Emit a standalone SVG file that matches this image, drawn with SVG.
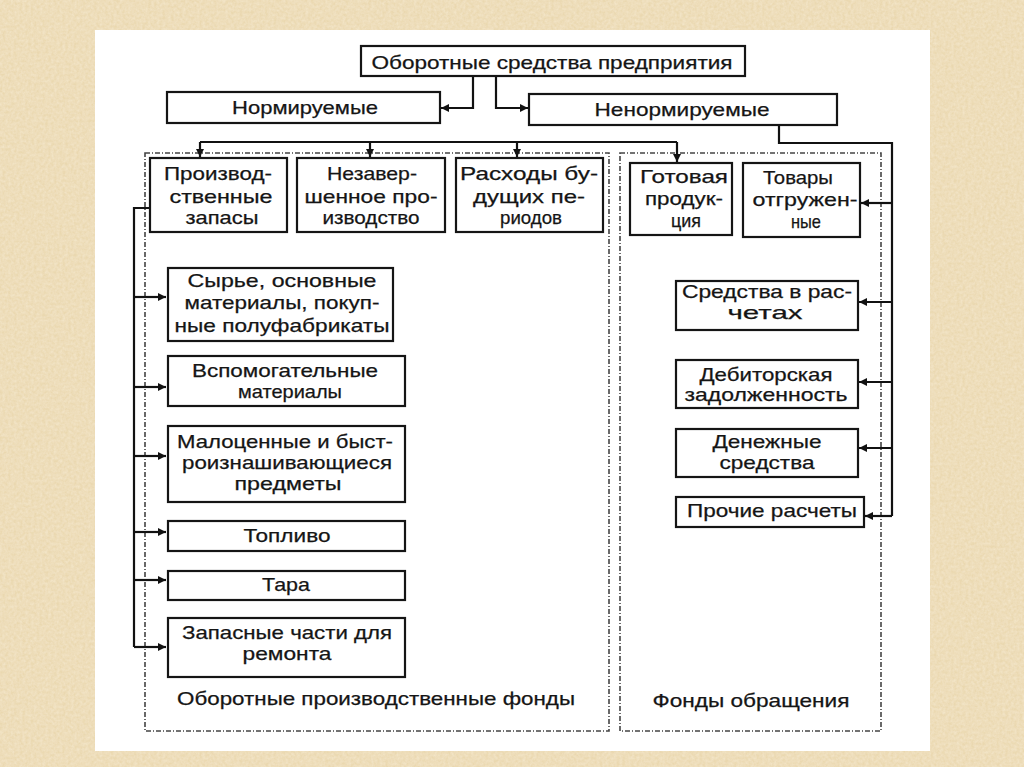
<svg xmlns="http://www.w3.org/2000/svg" width="1024" height="767" viewBox="0 0 1024 767">
<defs>
<filter id="tex" x="0" y="0" width="100%" height="100%">
<feTurbulence type="fractalNoise" baseFrequency="0.35" numOctaves="3" seed="4" result="n"/>
<feColorMatrix in="n" type="matrix" values="0 0 0 0 0.91  0 0 0 0 0.80  0 0 0 0 0.60  0 0 0 -1.2 0.95" result="c"/>
<feComposite in="c" in2="SourceGraphic" operator="over"/>
</filter>
<marker id="ah" viewBox="0 0 10 10" refX="10" refY="5" markerWidth="9" markerHeight="8" markerUnits="userSpaceOnUse" orient="auto">
<path d="M0,0 L10,5 L0,10 z" fill="#111"/>
</marker>
<style>
.box{fill:#fff;stroke:#151515;stroke-width:2.2}
.dash{fill:none;stroke:#444;stroke-width:1.6;stroke-dasharray:5 2 1 2}
.con{fill:none;stroke:#111;stroke-width:2.2}
.arr{fill:none;stroke:#111;stroke-width:2.2;marker-end:url(#ah)}
text{font-family:"Liberation Sans",Arial,sans-serif;font-size:19px;fill:#151515;stroke:#151515;stroke-width:0.25;text-anchor:middle}
</style>
</defs>
<rect x="0" y="0" width="1024" height="767" fill="#e6d2a8"/>
<rect x="0" y="0" width="1024" height="767" fill="#ead8b0" filter="url(#tex)"/>
<rect x="95" y="30" width="835" height="721" fill="#fff"/>

<g id="regions">
<rect class="dash" x="145" y="153" width="464" height="578"/>
<rect class="dash" x="620" y="153" width="261" height="578"/>
<text x="376" y="705" textLength="398" lengthAdjust="spacingAndGlyphs">Оборотные производственные фонды</text>
<text x="751" y="707" textLength="197" lengthAdjust="spacingAndGlyphs">Фонды обращения</text>
</g>

<g id="connectors">
<path class="arr" d="M473,76 V108 H441"/>
<path class="arr" d="M496,76 V108 H528"/>
<path class="con" d="M200,142 H677"/>
<path class="arr" d="M200,142 V157"/>
<path class="arr" d="M370,142 V157"/>
<path class="arr" d="M517,142 V157"/>
<path class="arr" d="M677,142 V162"/>
<path class="con" d="M779,125 V143 H892 V516"/>
<path class="arr" d="M892,203 H861"/>
<path class="arr" d="M892,302 H859"/>
<path class="arr" d="M892,382 H859"/>
<path class="arr" d="M892,448 H859"/>
<path class="arr" d="M892,516 H865"/>
<path class="con" d="M150,208 H134 V647"/>
<path class="arr" d="M134,297 H166"/>
<path class="arr" d="M134,387 H166"/>
<path class="arr" d="M134,456 H166"/>
<path class="arr" d="M134,532 H166"/>
<path class="arr" d="M134,580 H166"/>
<path class="arr" d="M134,647 H166"/>
</g>

<g id="n-root">
<rect class="box" x="361" y="46" width="384" height="30"/>
<text x="552" y="69" textLength="361" lengthAdjust="spacingAndGlyphs">Оборотные средства предприятия</text>
</g>
<g id="n-norm">
<rect class="box" x="167" y="92" width="273" height="31"/>
<text x="305" y="114" textLength="146" lengthAdjust="spacingAndGlyphs">Нормируемые</text>
</g>
<g id="n-nenorm">
<rect class="box" x="529" y="94" width="308" height="31"/>
<text x="682" y="116" textLength="175" lengthAdjust="spacingAndGlyphs">Ненормируемые</text>
</g>

<g id="n-proizv-zapasy">
<rect class="box" x="150" y="158" width="137" height="74"/>
<text x="218" y="180" textLength="108" lengthAdjust="spacingAndGlyphs">Производ-</text>
<text x="221" y="203" textLength="103" lengthAdjust="spacingAndGlyphs">ственные</text>
<text x="222" y="224" textLength="73" lengthAdjust="spacingAndGlyphs">запасы</text>
</g>
<g id="n-nezaversh">
<rect class="box" x="297" y="158" width="148" height="74"/>
<text x="372" y="180" textLength="90" lengthAdjust="spacingAndGlyphs">Незавер-</text>
<text x="371" y="203" textLength="133" lengthAdjust="spacingAndGlyphs">шенное про-</text>
<text x="371" y="224" textLength="97" lengthAdjust="spacingAndGlyphs">изводство</text>
</g>
<g id="n-rashody">
<rect class="box" x="456" y="158" width="147" height="74"/>
<text x="529" y="180" textLength="138" lengthAdjust="spacingAndGlyphs">Расходы бу-</text>
<text x="529" y="203" textLength="112" lengthAdjust="spacingAndGlyphs">дущих пе-</text>
<text x="531" y="224" textLength="62" lengthAdjust="spacingAndGlyphs">риодов</text>
</g>
<g id="n-gotovaya">
<rect class="box" x="630" y="163" width="102" height="72"/>
<text x="684" y="183" textLength="88" lengthAdjust="spacingAndGlyphs">Готовая</text>
<text x="684" y="205" textLength="78" lengthAdjust="spacingAndGlyphs">продук-</text>
<text x="686" y="227" textLength="30" lengthAdjust="spacingAndGlyphs">ция</text>
</g>
<g id="n-tovary">
<rect class="box" x="743" y="163" width="117" height="74"/>
<text x="798" y="184" textLength="70" lengthAdjust="spacingAndGlyphs">Товары</text>
<text x="805" y="206" textLength="105" lengthAdjust="spacingAndGlyphs">отгружен-</text>
<text x="806" y="228" textLength="30" lengthAdjust="spacingAndGlyphs">ные</text>
</g>

<g id="n-syrye">
<rect class="box" x="168" y="268" width="225" height="73"/>
<text x="282" y="287" textLength="189" lengthAdjust="spacingAndGlyphs">Сырье, основные</text>
<text x="282" y="309" textLength="195" lengthAdjust="spacingAndGlyphs">материалы, покуп-</text>
<text x="282" y="332" textLength="215" lengthAdjust="spacingAndGlyphs">ные полуфабрикаты</text>
</g>
<g id="n-vspomog">
<rect class="box" x="168" y="356" width="237" height="50"/>
<text x="285" y="377" textLength="186" lengthAdjust="spacingAndGlyphs">Вспомогательные</text>
<text x="290" y="398" textLength="104" lengthAdjust="spacingAndGlyphs">материалы</text>
</g>
<g id="n-malocennye">
<rect class="box" x="168" y="426" width="237" height="76"/>
<text x="285" y="448" textLength="216" lengthAdjust="spacingAndGlyphs">Малоценные и быст-</text>
<text x="287" y="469" textLength="210" lengthAdjust="spacingAndGlyphs">роизнашивающиеся</text>
<text x="288" y="490" textLength="107" lengthAdjust="spacingAndGlyphs">предметы</text>
</g>
<g id="n-toplivo">
<rect class="box" x="168" y="521" width="237" height="30"/>
<text x="287" y="542" textLength="87" lengthAdjust="spacingAndGlyphs">Топливо</text>
</g>
<g id="n-tara">
<rect class="box" x="168" y="571" width="237" height="29"/>
<text x="286" y="591" textLength="48" lengthAdjust="spacingAndGlyphs">Тара</text>
</g>
<g id="n-zapchasti">
<rect class="box" x="168" y="618" width="237" height="59"/>
<text x="287" y="639" textLength="210" lengthAdjust="spacingAndGlyphs">Запасные части для</text>
<text x="287" y="660" textLength="89" lengthAdjust="spacingAndGlyphs">ремонта</text>
</g>

<g id="n-sredstva-rasch">
<rect class="box" x="676" y="281" width="182" height="49"/>
<text x="767" y="298" textLength="170" lengthAdjust="spacingAndGlyphs">Средства в рас-</text>
<text x="765" y="319" textLength="75" lengthAdjust="spacingAndGlyphs">четах</text>
</g>
<g id="n-debitor">
<rect class="box" x="676" y="360" width="182" height="48"/>
<text x="766" y="381" textLength="133" lengthAdjust="spacingAndGlyphs">Дебиторская</text>
<text x="766" y="401" textLength="163" lengthAdjust="spacingAndGlyphs">задолженность</text>
</g>
<g id="n-denezhnye">
<rect class="box" x="676" y="429" width="182" height="48"/>
<text x="767" y="448" textLength="109" lengthAdjust="spacingAndGlyphs">Денежные</text>
<text x="767" y="469" textLength="95" lengthAdjust="spacingAndGlyphs">средства</text>
</g>
<g id="n-prochie">
<rect class="box" x="676" y="497" width="188" height="30"/>
<text x="772" y="517" textLength="170" lengthAdjust="spacingAndGlyphs">Прочие расчеты</text>
</g>
</svg>
